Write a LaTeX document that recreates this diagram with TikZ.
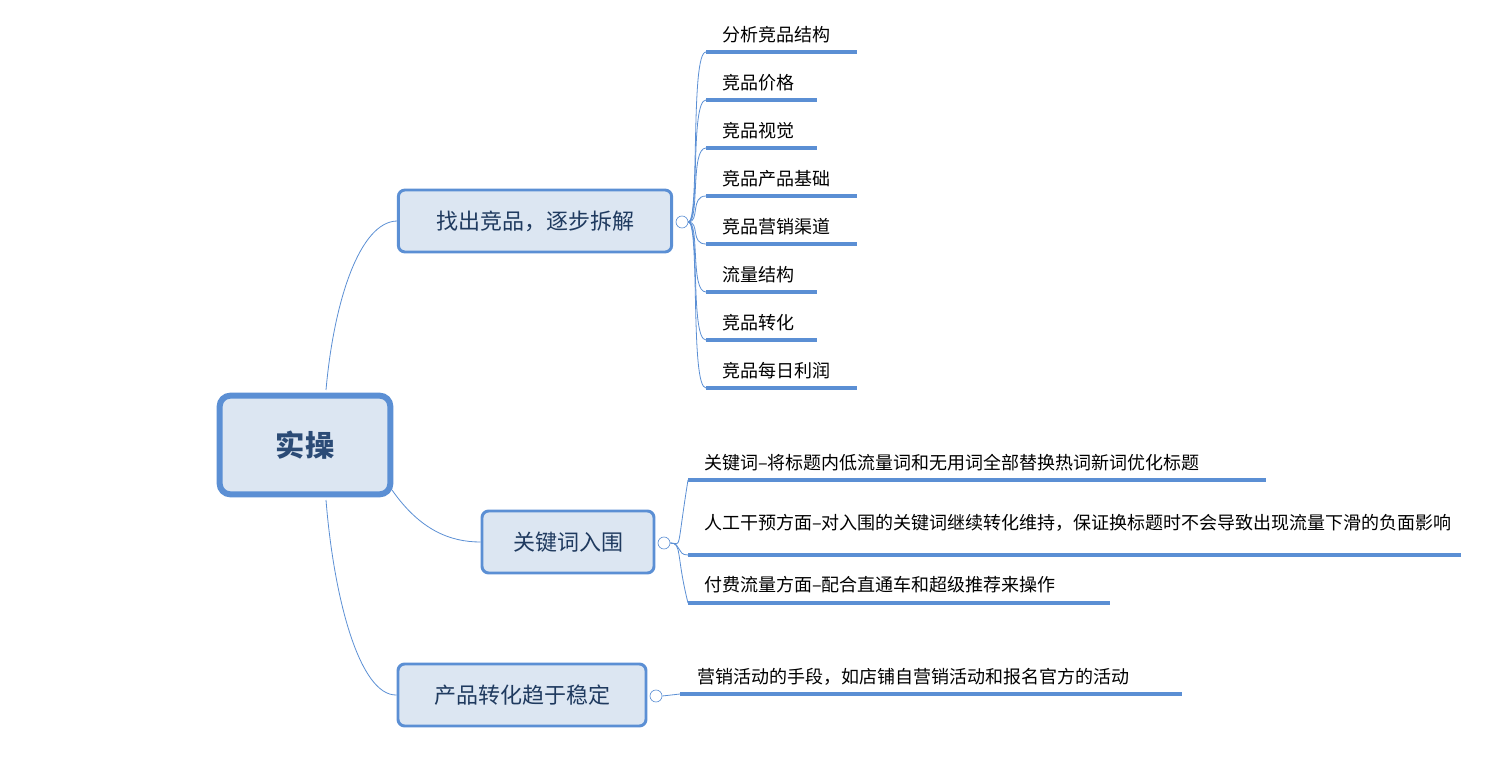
\documentclass[tikz,border=0pt]{standalone}
\usepackage{fontspec}
\setmainfont{Noto Sans CJK SC}
\definecolor{bl}{HTML}{5B8FD4}
\definecolor{fillb}{HTML}{DCE6F2}
\definecolor{txt}{HTML}{1F3A5F}
\begin{document}
\begin{tikzpicture}[x=0.75pt,y=-0.75pt,
  conn/.style={draw=bl,line width=0.6pt},
  uline/.style={draw=bl,line width=3pt},
  leaf/.style={anchor=west,inner sep=0pt,font=\fontsize{13.5}{16}\selectfont},
  mid/.style={draw=bl,line width=2.2pt,fill=fillb,rounded corners=5pt,minimum height=46.5pt,inner sep=0pt,font=\fontsize{16.5}{20}\selectfont,text=txt},
  coll/.style={circle,draw=bl,fill=white,line width=0.5pt,minimum size=9pt,inner sep=0pt}]
\useasboundingbox (0,0) rectangle (1510,773);
\node[draw=bl,line width=4.5pt,fill=fillb,rounded corners=8pt,minimum width=128pt,minimum height=74pt,inner sep=0pt,font=\bfseries\fontsize{22}{26}\selectfont,text=txt!80!bl] (root) at (305,445) {实操};
\node[mid,minimum width=205pt] (b1) at (535,221) {找出竞品，逐步拆解};
\node[mid,minimum width=129pt] (b2) at (568,542) {关键词入围};
\node[mid,minimum width=186pt] (b3) at (522,695) {产品转化趋于稳定};
\draw[conn] (326,390) .. controls (334,300) and (360,222) .. (b1.west);
\draw[conn] (326,500) .. controls (334,600) and (360,696) .. (b3.west);
\draw[conn] (392,490) .. controls (420,530) and (450,542) .. (b2.west);
\node[coll] (c1) at (682,222) {};
\node[coll] (c2) at (664,543) {};
\node[coll] (c3) at (656,696) {};
\foreach \t/\y/\e [count=\i] in {分析竞品结构/52/857,竞品价格/100/817,竞品视觉/148/817,竞品产品基础/196/857,竞品营销渠道/244/857,流量结构/292/817,竞品转化/340/817,竞品每日利润/388/857}{
  \coordinate (s\i) at (706,\y);
  \coordinate (e\i) at (\e,\y);
  \draw[uline] (s\i) -- (e\i);
  \node[leaf] (l\i) at (722,\y-17) {\t};
  \draw[conn] (c1.east) .. controls (700,222) and (690,\y) .. (s\i);
}
\coordinate (k1s) at (688,480); \coordinate (k1e) at (1266,480);
\coordinate (k2s) at (688,555); \coordinate (k2e) at (1461,555);
\coordinate (k3s) at (688,603); \coordinate (k3e) at (1110,603);
\draw[uline] (k1s)--(k1e); \draw[uline] (k2s)--(k2e); \draw[uline] (k3s)--(k3e);
\node[leaf] (k1) at (704,463) {关键词--将标题内低流量词和无用词全部替换热词新词优化标题};
\node[leaf,text width=560pt,align=left] (k2) at (704,523) {人工干预方面--对入围的关键词继续转化维持，保证换标题时不会导致出现流量下滑的负面影响};
\node[leaf] (k3) at (704,585) {付费流量方面--配合直通车和超级推荐来操作};
\foreach \s in {k1s,k2s,k3s}{\draw[conn] (c2.east) .. controls (682,543) and (676,555) .. (\s);}
\coordinate (m1s) at (680,694); \coordinate (m1e) at (1182,694);
\draw[uline] (m1s)--(m1e);
\draw[conn] (c3.east)--(m1s);
\node[leaf] (m1) at (697,677) {营销活动的手段，如店铺自营销活动和报名官方的活动};
\end{tikzpicture}
\end{document}
